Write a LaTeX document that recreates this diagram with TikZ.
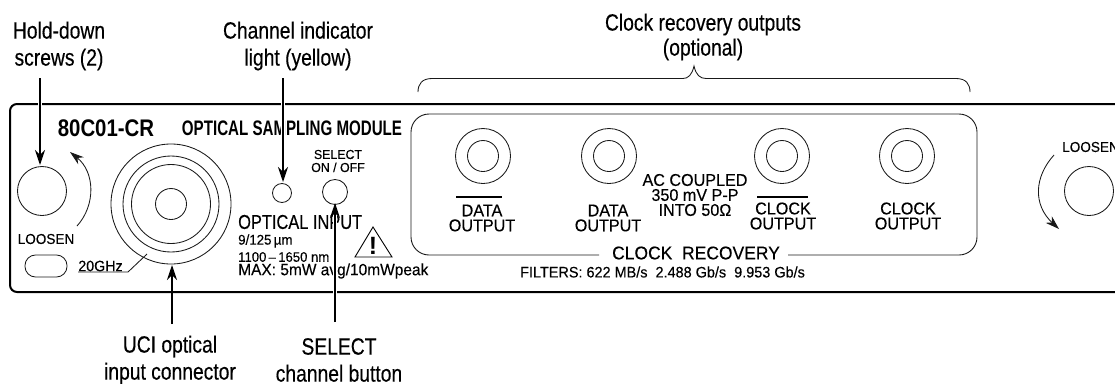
\documentclass[tikz,border=0pt]{standalone}
\usepackage{fontspec}
\setmainfont{Liberation Sans}
\newfontfamily\narrowf[FakeStretch=0.82,FakeBold=0.35]{Liberation Sans}
\newfontfamily\titlef[FakeStretch=0.72]{Liberation Sans}
\newfontfamily\modelf[FakeStretch=0.85]{Liberation Sans}
\newfontfamily\panelf[FakeStretch=0.95,FakeBold=0.25]{Liberation Sans}
\usetikzlibrary{arrows.meta}
\tikzset{
  callout/.style={font=\narrowf\fontsize{23.5}{27}\selectfont,align=center,inner sep=0pt,text=black},
  paneltext/.style={font=\panelf\fontsize{14.3}{15}\selectfont,align=center,inner sep=0pt},
  outlabel/.style={font=\panelf\fontsize{17}{15}\selectfont,align=center,inner sep=0pt},
  smalltext/.style={font=\panelf\fontsize{13.8}{14}\selectfont,inner sep=0pt,anchor=west},
  thin line/.style={line width=0.85pt,black!90},
  round part/.style={circle,draw=black!90,line width=0.85pt,minimum size=#1,inner sep=0pt},
  pointer/.style={line width=1.3pt,-{Stealth[length=15pt,width=10pt]}},
  arc pointer/.style={line width=0.85pt,black!90,-{Stealth[length=14pt,width=9pt]}},
  halo/.style={line width=4pt,white},
  panel edge/.style={line width=2pt,black,rounded corners=7pt},
}
\begin{document}
\begin{tikzpicture}[x=1pt,y=-1pt]
\useasboundingbox (0,0) rectangle (1115,383);
\clip (0,0) rectangle (1115,383);
% panel
\draw[panel edge] (1116,104) -- (10,104) -- (10,292) -- (1116,292);
% titles
\node[inner sep=0pt,font=\modelf\bfseries\fontsize{24}{24}\selectfont] (model) at (106,128) {80C01-CR};
\node[inner sep=0pt,font=\titlef\bfseries\fontsize{21}{22}\selectfont] (title) at (292,128) {OPTICAL SAMPLING MODULE};
% left screw
\node[round part=49pt] (screwL) at (42,191) {};
\node[paneltext] (loosenL) at (46,239) {LOOSEN};
\coordinate (arcLa) at (77,226);
\coordinate (arcLb) at (70,152);
\draw[arc pointer] (arcLa) .. controls (96,205) and (95,172) .. (arcLb);
\node[draw=black!90,line width=0.85pt,rounded corners=10.5pt,minimum width=42pt,minimum height=22pt,inner sep=0pt] (pill) at (46,266) {};
\node[paneltext,font=\panelf\fontsize{15}{15}\selectfont] (ghz) at (100.5,266) {20GHz};
\coordinate (ghza) at (78,272);
\coordinate (ghzb) at (128,272);
\coordinate (ghzc) at (147,254);
\draw[thin line] (ghza) -- (ghzb) -- (ghzc);
% connector
\node[round part=120pt] (conn1) at (171,204) {};
\node[round part=96pt] (conn2) at (171,204) {};
\node[round part=79pt] (conn3) at (171,204) {};
\node[round part=31pt] (conn4) at (171,204) {};
% optical input area
\node[round part=19pt] (light) at (282,193) {};
\node[round part=25pt] (button) at (335,192) {};
\node[paneltext,font=\panelf\fontsize{13}{13}\selectfont] (sel) at (338,161) {SELECT\\ON / OFF};
\node[inner sep=0pt,anchor=west,font=\narrowf\fontsize{20}{20}\selectfont] (optin) at (238,222) {OPTICAL INPUT};
\node[smalltext,font=\panelf\fontsize{14}{14}\selectfont] (fib) at (238,241) {9/125\,µm};
\node[smalltext] (wave) at (238,257) {1100\,–\,1650 nm};
\node[smalltext,font=\panelf\fontsize{16.3}{16}\selectfont] (maxp) at (238,271) {MAX: 5mW avg/10mWpeak};
\coordinate (tria) at (373,227);
\coordinate (trib) at (355,257);
\coordinate (tric) at (392,257);
\draw[line width=0.9pt,line join=miter] (tria) -- (trib) -- (tric) -- cycle;
\node[inner sep=0pt,font=\bfseries\fontsize{25}{25}\selectfont] (excl) at (373,246) {!};
% clock recovery box
\draw[thin line,line width=0.9pt,rounded corners=18pt] (599,255) -- (411,255) -- (411,114) -- (977,114) -- (977,255) -- (788,255);
\node[outlabel,font=\panelf\fontsize{18.4}{18}\selectfont] (cr) at (696,253) {CLOCK\ \ RECOVERY};
\node[smalltext,font=\panelf\fontsize{15.2}{15}\selectfont] (filt) at (520,272) {FILTERS: 622 MB/s\ \ 2.488 Gb/s\ \ 9.953 Gb/s};
\foreach \n/\x in {a/483,b/609,c/782,d/907}{
  \node[round part=55pt] (o\n) at (\x,156) {};
  \node[round part=31pt] (i\n) at (\x,156) {};
}
\node[outlabel] (l1) at (482,218) {DATA\\OUTPUT};
\node[outlabel] (l2) at (608,218) {DATA\\OUTPUT};
\node[outlabel] (l3) at (783,216) {CLOCK\\OUTPUT};
\node[outlabel] (l4) at (908,216) {CLOCK\\OUTPUT};
\coordinate (b1a) at (456,197); \coordinate (b1b) at (502,197);
\coordinate (b3a) at (757,197); \coordinate (b3b) at (808,197);
\draw[line width=1.6pt] (b1a) -- (b1b);
\draw[line width=1.6pt] (b3a) -- (b3b);
\node[outlabel] (ac) at (695,195) {AC COUPLED\\350 mV P-P\\INTO 50Ω};
% right screw
\node[round part=49pt] (screwR) at (1089,191) {};
\node[paneltext,anchor=west] (loosenR) at (1062,147) {LOOSEN};
\coordinate (arcRa) at (1054,155);
\coordinate (arcRb) at (1059,229);
\draw[arc pointer] (arcRa) .. controls (1034,177) and (1033,205) .. (arcRb);
% brace
\coordinate (bl) at (418,92);
\coordinate (br) at (970,92);
\coordinate (bm) at (694,66);
\draw[thin line] (bl) .. controls (418,84) and (422,78.5) .. (432,78.5) -- (683,78.5) .. controls (688,78.5) and (692,75) .. (bm) .. controls (696,75) and (700,78.5) .. (706,78.5) -- (956,78.5) .. controls (966,78.5) and (970,84) .. (br);
% callouts
\node[callout] (t1) at (59,46) {Hold-down\\screws (2)};
\node[callout] (t2) at (298,46) {Channel indicator\\light (yellow)};
\node[callout,font=\narrowf\fontsize{23.5}{25}\selectfont] (t3) at (703,37) {Clock recovery outputs\\(optional)};
\node[callout] (t4) at (170,360) {UCI optical\\input connector};
\node[callout] (t5) at (339,360) {SELECT\\channel button};
% pointers
\coordinate (p2t) at (283,78);
\coordinate (p2e) at (283,182);
\draw[halo] (283,100) -- (283,108);
\draw[halo] (283,115) -- (283,140);
\draw[pointer] (p2t) -- (p2e);
\coordinate (p5t) at (335,322);
\coordinate (p5e) at (335,203);
\draw[halo] (335,296) -- (335,288);
\draw[halo] (335,280) -- (335,215);
\draw[pointer] (p5t) -- (p5e);
\coordinate (p1t) at (40,78);
\coordinate (p1e) at (40,165);
\draw[halo] (40,100) -- (40,108);
\draw[pointer] (p1t) -- (p1e);
\coordinate (p4t) at (172,324);
\coordinate (p4e) at (172,265);
\draw[pointer] (p4t) -- (p4e);
\end{tikzpicture}
\end{document}
